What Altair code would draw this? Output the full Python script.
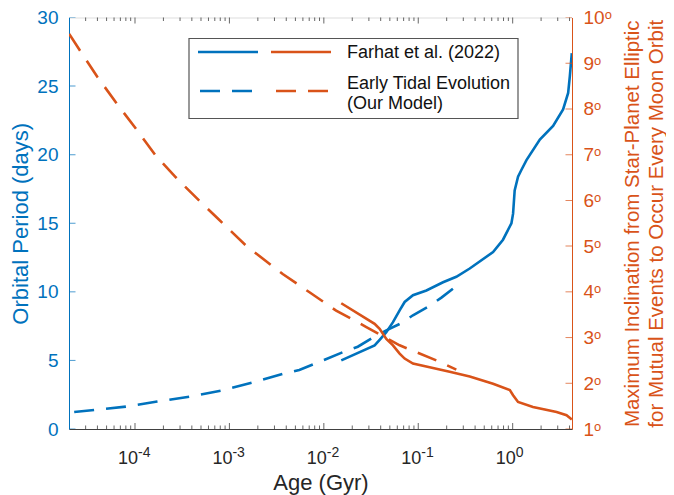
import altair as alt
import pandas as pd

BLUE = "#0072BD"
ORANGE = "#D95319"
DARK = "#262626"
FONT = "Liberation Sans"

AGE_MIN, AGE_MAX = 2e-5, 4.25

# Farhat et al. (2022) - orbital period (days)
farhat_age = [0.0153, 0.0345, 0.039, 0.0459, 0.054, 0.0635, 0.0718, 0.0879, 0.122, 0.183,
              0.253, 0.351, 0.62, 0.79, 0.97, 1.01, 1.05, 1.14, 1.24, 1.40, 1.94, 2.68,
              3.42, 3.87, 4.03, 4.23]
farhat_period = [5.0, 6.09, 6.5, 7.06, 7.79, 8.65, 9.26, 9.75, 10.1, 10.7,
                 11.1, 11.7, 12.9, 13.8, 15.0, 15.7, 17.4, 18.4, 18.9, 19.6, 21.1, 22.1,
                 23.3, 24.5, 25.7, 27.4]

# Early tidal evolution (our model) - orbital period (days)
model_age = [2.27e-5, 8.0e-5, 1.72e-4, 3.77e-4, 8.2e-4, 1.75e-3, 3.65e-3, 5.5e-3, 1.02e-2,
             0.0159, 0.0229, 0.0331, 0.0459, 0.0662, 0.0879, 0.1267, 0.176, 0.247]
model_period = [1.24, 1.63, 2.0, 2.36, 2.8, 3.39, 4.02, 4.3, 5.05,
                5.6, 6.0, 6.66, 7.19, 7.72, 8.29, 8.9, 9.58, 10.36]

# Farhat et al. (2022) - maximum inclination (deg)
farhat_inc_age = [0.0153, 0.0345, 0.039, 0.0459, 0.054, 0.0635, 0.0718, 0.0879, 0.132, 0.215,
                  0.351, 0.62, 0.933, 1.01, 1.14, 1.64, 2.92, 3.72, 4.23]
farhat_inc = [3.75, 3.30, 3.19, 2.97, 2.83, 2.65, 2.54, 2.43, 2.35, 2.25,
              2.15, 1.99, 1.85, 1.74, 1.59, 1.48, 1.37, 1.30, 1.21]

# Early tidal evolution (our model) - maximum inclination (deg)
model_inc_age = [2.01e-5, 2.57e-5, 4.0e-5, 6.29e-5, 1.03e-4, 1.67e-4, 2.72e-4, 4.81e-4, 7.83e-4,
                 1.50e-3, 3.67e-3, 7.05e-3, 0.0135, 0.0282, 0.0635, 0.156, 0.253]
model_inc = [9.64, 9.30, 8.70, 8.14, 7.56, 6.97, 6.50, 5.99, 5.57,
             5.01, 4.39, 3.99, 3.59, 3.23, 2.83, 2.50, 2.30]

x_major = [1e-4, 1e-3, 1e-2, 1e-1, 1]
x_major_base = ["10", "10", "10", "10", "10"]
x_major_exp = ["-4", "-3", "-2", "-1", "0"]
x_minor = [m * 10.0 ** k for k in range(-5, 1) for m in range(2, 10)
           if AGE_MIN < m * 10.0 ** k < AGE_MAX]
period_ticks = [0, 5, 10, 15, 20, 25, 30]
inc_ticks = [1, 2, 3, 4, 5, 6, 7, 8, 9, 10]


def xenc():
    return alt.X(
        "age:Q",
        scale=alt.Scale(type="log", domain=[AGE_MIN, AGE_MAX], nice=False),
        axis=alt.Axis(title="Age (Gyr)", values=x_major, labels=False, ticks=False, tickSize=0,
                      titleFont=FONT, titleFontSize=22, titleFontWeight="normal", titleColor=DARK,
                      titleY=60, titleBaseline="alphabetic", domainColor="#404040", grid=False),
    )


def yleft():
    return alt.Y(
        "period:Q",
        scale=alt.Scale(domain=[0, 30], nice=False, zero=False),
        axis=alt.Axis(title="Orbital Period (days)", orient="left", values=period_ticks, ticks=False,
                      tickSize=0, labelPadding=11, labelFontSize=19, labelColor=BLUE, labelFont=FONT,
                      titleFont=FONT, titleFontSize=22, titleFontWeight="normal", titleColor=BLUE,
                      titleX=-49, titleBaseline="middle", titleAngle=270, domainColor=BLUE, grid=False),
    )


def yright():
    return alt.Y(
        "inc:Q",
        scale=alt.Scale(domain=[1, 10], nice=False, zero=False),
        axis=alt.Axis(title=["Maximum Inclination from Star-Planet Elliptic",
                             "for Mutual Events to Occur Every Moon Orbit"],
                      orient="right", values=inc_ticks, labelExpr="datum.value + 'ᵒ'", ticks=False,
                      tickSize=0, labelPadding=11, labelFontSize=19, labelColor=ORANGE, labelFont=FONT,
                      titleFont=FONT, titleFontSize=20.5, titleFontWeight="normal", titleColor=ORANGE,
                      titleX=60, titleBaseline="middle", titleAngle=270, titleLineHeight=24,
                      domainColor=ORANGE, grid=False),
    )


df_farhat = pd.DataFrame({"age": farhat_age, "period": farhat_period})
df_model = pd.DataFrame({"age": model_age, "period": model_period})
df_finc = pd.DataFrame({"age": farhat_inc_age, "inc": farhat_inc})
df_minc = pd.DataFrame({"age": model_inc_age, "inc": model_inc})

xt_rows = []
for v in x_major:
    xt_rows += [{"age": v, "period": 0, "len": 12}, {"age": v, "period": 30, "len": 12}]
for v in x_minor:
    xt_rows += [{"age": v, "period": 0, "len": 7}, {"age": v, "period": 30, "len": 7}]
df_xt = pd.DataFrame(xt_rows)
df_lt = pd.DataFrame({"age": [AGE_MIN] * len(period_ticks), "period": period_ticks})
df_rt = pd.DataFrame({"age": [AGE_MAX] * len(inc_ticks), "inc": inc_ticks})
df_xl = pd.DataFrame({"age": x_major, "period": [0] * len(x_major),
                      "base": x_major_base, "exp": x_major_exp})

DASH = [20, 12]
SW = 2.6

blue_solid = alt.Chart(df_farhat).mark_line(color=BLUE, strokeWidth=SW, clip=True).encode(
    x=xenc(), y=yleft(), order="age:Q")
blue_dash = alt.Chart(df_model).mark_line(color=BLUE, strokeWidth=SW, strokeDash=DASH, clip=True).encode(
    x=xenc(), y=yleft(), order="age:Q")
xticks = alt.Chart(df_xt).mark_tick(orient="vertical", color=DARK, thickness=1, clip=True).encode(
    x=xenc(), y=yleft(), size=alt.Size("len:Q", scale=None, legend=None))
lticks = alt.Chart(df_lt).mark_tick(orient="horizontal", color=BLUE, thickness=1, size=13, clip=True).encode(
    x=xenc(), y=yleft())
xlab_base = alt.Chart(df_xl).mark_text(align="right", baseline="alphabetic", font=FONT, fontSize=18,
                                       color=DARK, dx=3, dy=34.5).encode(
    x=xenc(), y=yleft(), text="base:N")
xlab_exp = alt.Chart(df_xl).mark_text(align="left", baseline="alphabetic", font=FONT, fontSize=14,
                                      color=DARK, dx=3, dy=28).encode(
    x=xenc(), y=yleft(), text="exp:N")

orange_solid = alt.Chart(df_finc).mark_line(color=ORANGE, strokeWidth=SW, clip=True).encode(
    x=xenc(), y=yright(), order="age:Q")
orange_dash = alt.Chart(df_minc).mark_line(color=ORANGE, strokeWidth=SW, strokeDash=DASH, clip=True).encode(
    x=xenc(), y=yright(), order="age:Q")
rticks = alt.Chart(df_rt).mark_tick(orient="horizontal", color=ORANGE, thickness=1, size=13, clip=True).encode(
    x=xenc(), y=yright())

left = alt.layer(xticks, lticks, blue_solid, blue_dash, xlab_base, xlab_exp)
right = alt.layer(rticks, orange_solid, orange_dash)

one = pd.DataFrame({"k": [0]})
base = alt.Chart(one)
legend_box = base.mark_rect(fill="white", stroke="#555555", strokeWidth=1.2).encode(
    x=alt.value(120), x2=alt.value(449), y=alt.value(21), y2=alt.value(101))
lg1 = base.mark_rule(color=BLUE, strokeWidth=SW).encode(
    x=alt.value(129), x2=alt.value(189), y=alt.value(34.5))
lg2 = base.mark_rule(color=ORANGE, strokeWidth=SW).encode(
    x=alt.value(202), x2=alt.value(262), y=alt.value(34.5))
lg3 = base.mark_rule(color=BLUE, strokeWidth=SW, strokeDash=DASH).encode(
    x=alt.value(131), x2=alt.value(189), y=alt.value(73.5))
lg4 = base.mark_rule(color=ORANGE, strokeWidth=SW, strokeDash=DASH).encode(
    x=alt.value(207), x2=alt.value(262), y=alt.value(73.5))
txt_style = dict(align="left", baseline="middle", font=FONT, fontSize=18, color="#111111")
t1 = base.mark_text(**txt_style).encode(x=alt.value(278), y=alt.value(35.5), text=alt.value("Farhat et al. (2022)"))
t2 = base.mark_text(**txt_style).encode(x=alt.value(278), y=alt.value(66.5), text=alt.value("Early Tidal Evolution"))
t3 = base.mark_text(**txt_style).encode(x=alt.value(278), y=alt.value(86), text=alt.value("(Our Model)"))

chart = alt.layer(
    left, right, legend_box, lg1, lg2, lg3, lg4, t1, t2, t3
).resolve_scale(y="independent").properties(
    width=503, height=411.5,
    autosize=alt.AutoSizeParams(type="none"),
    padding={"left": 61, "top": 9.5, "right": 94, "bottom": 66},
).configure_view(stroke=DARK, strokeWidth=1).configure(background="white")

chart.save("out.html", embed_options={"renderer": "svg", "actions": False})
